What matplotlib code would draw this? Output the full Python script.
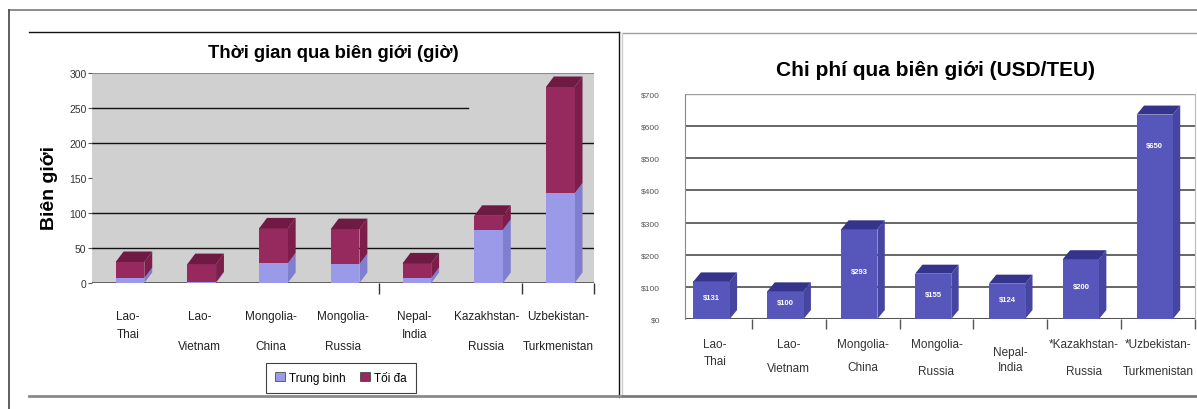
import matplotlib.pyplot as plt
import matplotlib.transforms as mtransforms
from matplotlib.patches import Polygon, Patch
from matplotlib.lines import Line2D

plt.rcParams['font.family'] = ['Liberation Sans', 'DejaVu Sans']

# border crossing time (hours): average and maximum stacked on top
time_line1 = ["Lao-", "Lao-", "Mongolia-", "Mongolia-", "Nepal-", "Kazakhstan-", "Uzbekistan-"]
time_line2 = ["Thai", "Vietnam", "China", "Russia", "India", "Russia", "Turkmenistan"]
hours_avg = [7, 1, 28, 27, 7, 76, 128]
hours_max = [23, 26, 50, 50, 21, 20, 152]
hour_ticks = [0, 50, 100, 150, 200, 250, 300]

# border crossing cost (USD per TEU)
cost_line1 = ["Lao-", "Lao-", "Mongolia-", "Mongolia-", "Nepal-", "*Kazakhstan-", "*Uzbekistan-"]
cost_line2 = ["Thai", "Vietnam", "China", "Russia", "India", "Russia", "Turkmenistan"]
cost_usd = [131, 100, 293, 155, 124, 200, 650]
cost_ticks = [0, 100, 200, 300, 400, 500, 600, 700]

W, H = 1197, 410
def fx(x):
    return x / W
def fy(y):
    return 1 - y / H

def box(ax, x0, w, y0, y1, dx, dz, front, side, top=None, z=3):
    ax.add_patch(Polygon([(x0 + w, y0), (x0 + w + dx, y0 + dz), (x0 + w + dx, y1 + dz), (x0 + w, y1)],
                         closed=True, fc=side, ec='none', zorder=z))
    ax.add_patch(Polygon([(x0, y0), (x0 + w, y0), (x0 + w, y1), (x0, y1)],
                         closed=True, fc=front, ec='none', zorder=z))
    if top is not None:
        ax.add_patch(Polygon([(x0, y1), (x0 + dx, y1 + dz), (x0 + w + dx, y1 + dz), (x0 + w, y1)],
                             closed=True, fc=top, ec='none', zorder=z + 0.5))

fig = plt.figure(figsize=(W / 100, H / 100), dpi=100)

# frames
def fline(x0, y0, x1, y1, color, lw):
    fig.add_artist(Line2D([fx(x0), fx(x1)], [fy(y0), fy(y1)], transform=fig.transFigure,
                          color=color, lw=lw))

fline(9, 11, 1197, 11, '#7a7a7a', 1.2)
fline(9, 11, 9, 410, '#444444', 1.2)
fline(29, 33, 619, 33, '#111111', 1.0)
fline(619, 33, 619, 398, '#111111', 1.0)
fline(29, 397, 619, 397, '#8a8a8a', 2.0)
fline(622, 34, 1197, 34, '#a0a0a0', 1.0)
fline(622, 34, 622, 397, '#cccccc', 1.0)
fline(622, 397, 1197, 397, '#7a7a7a', 2.0)

# ---------- left chart: crossing time ----------
ax1 = fig.add_axes([fx(92), fy(284), (594 - 92) / W, (284 - 74) / H])
ax1.set_xlim(-0.5, 6.5)
ax1.set_ylim(0, 300)
ax1.set_facecolor('#d0d0d0')
for s in ax1.spines.values():
    s.set_visible(False)
ax1.axhline(300, color='#8a8a8a', lw=1.5, zorder=2)
ax1.axhline(0, color='#555555', lw=2.0, zorder=2)
for g in [50, 100, 200]:
    ax1.axhline(g, color='#111111', lw=1.0, zorder=1)
ax1.axhline(250, xmax=(468 - 92) / (594 - 92), color='#111111', lw=1.0, zorder=1)

for i, (a, m) in enumerate(zip(hours_avg, hours_max)):
    box(ax1, i - 0.17, 0.40, 0, a, 0.11, 15, '#9a9ae8', '#7f7fd0')
    box(ax1, i - 0.17, 0.40, a, a + m, 0.11, 15, '#962a5e', '#7c1d4a', '#6e1a42')

ax1.set_yticks(hour_ticks)
ax1.set_yticklabels([str(t) for t in hour_ticks])
ax1.tick_params(axis='y', length=3, pad=1, labelsize=7.5, colors='#555555', labelcolor='#333333')
ax1.set_xticks([3.5, 5.5, 6.5])
ax1.set_xticklabels([])
ax1.tick_params(axis='x', length=8, width=1, colors='#333333')

tr1 = mtransforms.blended_transform_factory(ax1.transData, fig.transFigure)
row2_1 = [335, 347, 347, 347, 335, 347, 347]
for i in range(len(time_line1)):
    ax1.text(i, fy(317), time_line1[i], transform=tr1, ha='center', va='center',
             fontsize=8.5, color='#222222')
    ax1.text(i, fy(row2_1[i]), time_line2[i], transform=tr1, ha='center', va='center',
             fontsize=8.5, color='#222222')

fig.text(fx(333), fy(58), "Thời gian qua biên giới (giờ)", ha='center', va='baseline',
         fontsize=13.3, weight='bold')
fig.text(fx(50), fy(188), "Biên giới", rotation=90, ha='center', va='center',
         fontsize=14, weight='bold')

handles = [Patch(fc='#9a9ae8', ec='#333333', lw=0.5, label='Trung bình'),
           Patch(fc='#962a5e', ec='#333333', lw=0.5, label='Tối đa')]
leg = fig.legend(handles=handles, loc='center', bbox_to_anchor=(fx(341), fy(379)), ncol=2,
                 fontsize=8.5, frameon=True, fancybox=False, edgecolor='#111111',
                 handlelength=0.8, handleheight=0.8, handletextpad=0.4, columnspacing=1.2,
                 borderpad=0.8, borderaxespad=0)
leg.get_frame().set_linewidth(0.8)

# ---------- right chart: crossing cost ----------
ax2 = fig.add_axes([fx(685), fy(320), (1195 - 685) / W, (320 - 95) / H])
ax2.set_xlim(-0.405, 6.49)
ax2.set_ylim(0, 700)
ax2.set_facecolor('white')
for s in ['top', 'bottom']:
    ax2.spines[s].set_visible(False)
ax2.spines['left'].set_color('#888888')
ax2.spines['right'].set_color('#bbbbbb')
ax2.axhline(700, color='#a0a0a0', lw=1.0, zorder=1)
ax2.axhline(0, color='#555555', lw=1.5, zorder=2)
for g in cost_ticks[1:-1]:
    ax2.axhline(g, color='#5a5a5a', lw=1.3, zorder=1)

dz2 = 28
for i, v in enumerate(cost_usd):
    box(ax2, i - 0.29, 0.49, 0, v - dz2 / 2, 0.1, dz2, '#5757bb', '#4646a2', '#34348c')
    ty = v / 2 if v < 300 else v - 110
    ax2.text(i - 0.045, ty, f"${v}", ha='center', va='center', fontsize=5.5,
             color='white', weight='bold', zorder=5)

ax2.set_yticks(cost_ticks)
ax2.set_yticklabels([f"${t}" for t in cost_ticks])
ax2.tick_params(axis='y', length=0, pad=18, labelsize=6, labelcolor='#555555')
ax2.set_xticks([k + 0.5 for k in range(7)])
ax2.set_xticklabels([])
ax2.tick_params(axis='x', length=7, width=1, colors='#555555')

tr2 = mtransforms.blended_transform_factory(ax2.transData, fig.transFigure)
row1_2 = [345, 345, 345, 345, 353, 345, 345]
row2_2 = [362, 369, 368, 372, 368, 372, 372]
for i in range(len(cost_line1)):
    ax2.text(i, fy(row1_2[i]), cost_line1[i], transform=tr2, ha='center', va='center',
             fontsize=8.5, color='#333333')
    ax2.text(i, fy(row2_2[i]), cost_line2[i], transform=tr2, ha='center', va='center',
             fontsize=8.5, color='#333333')

fig.text(fx(936), fy(76), "Chi phí qua biên giới (USD/TEU)", ha='center', va='baseline',
         fontsize=15, weight='bold')

fig.savefig("out.png", dpi=100)
